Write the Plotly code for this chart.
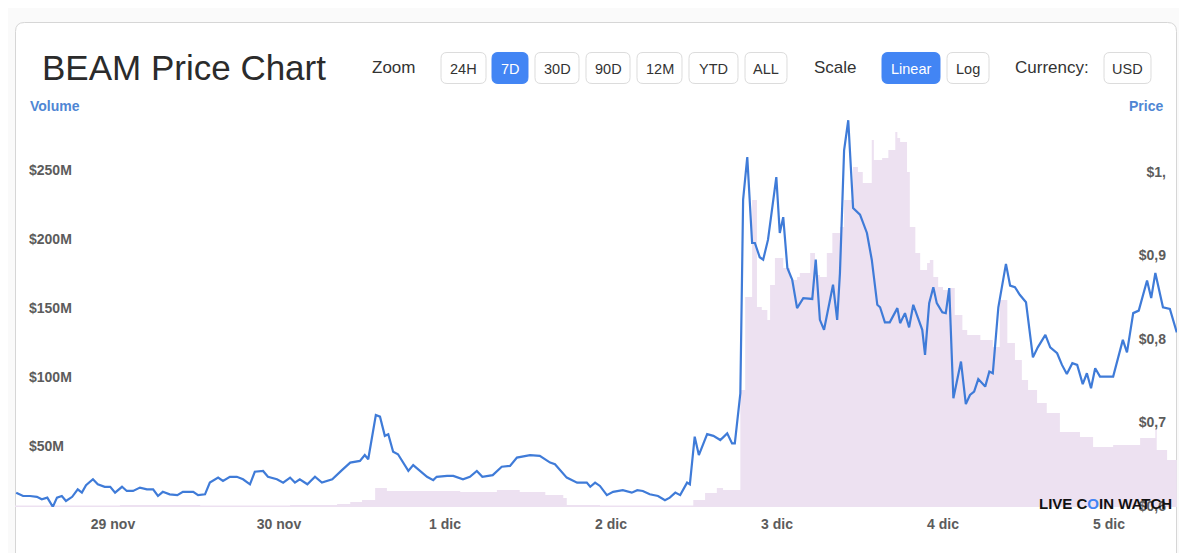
import plotly.graph_objects as go
import pandas as pd

# ---------------- data ----------------
START = pd.Timestamp("2020-11-29 00:00")

price_hours = [-14.0, -13.0, -12.0, -11.0, -10.3, -9.5, -8.7, -8.1, -7.4, -6.8,
               -5.9, -5.1, -4.5, -3.9, -2.9, -2.2, -1.2, -0.4, 0.3, 1.3,
               2.0, 2.9, 3.9, 4.9, 5.8, 6.5, 7.2, 8.2, 9.3, 10.1,
               11.6, 12.3, 13.3, 14.0, 15.2, 15.9, 16.9, 17.9, 18.8, 19.8,
               20.5, 21.7, 22.4, 23.7, 24.6, 25.6, 26.3, 27.0, 28.1, 29.2,
               30.2, 31.7, 33.1, 34.3, 35.7, 36.4, 36.9, 38.0, 38.6, 39.3,
               39.8, 40.5, 41.2, 42.7, 43.4, 45.4, 46.3, 46.8, 48.3, 49.2,
               50.6, 51.6, 52.6, 53.4, 54.9, 56.2, 57.4, 58.4, 60.3, 61.7,
               63.2, 63.9, 65.6, 67.1, 68.5, 69.0, 69.7, 70.4, 71.4, 72.3,
               73.7, 75.0, 75.8, 76.6, 77.6, 78.8, 79.8, 80.5, 81.3, 82.0,
               83.0, 83.4, 84.1, 84.7, 85.9, 86.8, 87.8, 88.8, 89.5, 89.9,
               90.7, 91.1, 91.7, 92.4, 92.8, 93.5, 94.0, 94.7, 95.9, 96.4,
               96.9, 97.5, 98.2, 98.9, 99.8, 101.1, 101.6, 102.2, 102.8, 103.4,
               104.1, 104.7, 105.1, 105.7, 106.3, 107.0, 108.0, 109.0, 109.7, 110.5,
               110.9, 111.6, 112.3, 113.4, 113.8, 114.5, 115.1, 115.7, 116.4, 117.0,
               117.4, 118.0, 118.6, 119.1, 119.9, 120.4, 120.9, 121.5, 122.6, 123.3,
               123.9, 124.5, 125.1, 126.1, 126.7, 127.2, 128.0, 129.1, 129.7, 130.4,
               131.1, 132.0, 133.0, 133.7, 134.8, 135.5, 136.5, 137.2, 137.9, 138.7,
               139.4, 140.2, 140.8, 141.4, 142.0, 142.7, 144.6, 145.3, 146.0, 146.6,
               147.5, 148.3, 149.5, 150.1, 150.7, 151.8, 152.8, 153.8]

price_usd = [0.616, 0.612, 0.612, 0.611, 0.608, 0.610, 0.599, 0.610, 0.612, 0.606,
             0.611, 0.620, 0.616, 0.625, 0.632, 0.626, 0.623, 0.623, 0.616, 0.623,
             0.618, 0.618, 0.622, 0.620, 0.620, 0.612, 0.617, 0.614, 0.613, 0.617,
             0.617, 0.613, 0.614, 0.628, 0.634, 0.630, 0.635, 0.635, 0.632, 0.626,
             0.641, 0.642, 0.635, 0.632, 0.628, 0.634, 0.628, 0.632, 0.626, 0.635,
             0.628, 0.632, 0.643, 0.652, 0.654, 0.661, 0.656, 0.709, 0.707, 0.684,
             0.686, 0.665, 0.662, 0.642, 0.649, 0.635, 0.631, 0.635, 0.636, 0.636,
             0.632, 0.635, 0.642, 0.635, 0.637, 0.647, 0.648, 0.658, 0.661, 0.660,
             0.652, 0.650, 0.634, 0.628, 0.628, 0.623, 0.628, 0.624, 0.613, 0.617,
             0.619, 0.616, 0.619, 0.618, 0.614, 0.612, 0.607, 0.610, 0.616, 0.613,
             0.628, 0.626, 0.683, 0.661, 0.686, 0.684, 0.679, 0.687, 0.675, 0.675,
             0.735, 0.967, 1.018, 0.915, 0.915, 0.898, 0.895, 0.919, 0.994, 0.927,
             0.946, 0.885, 0.871, 0.837, 0.849, 0.848, 0.895, 0.823, 0.811, 0.835,
             0.865, 0.823, 0.879, 1.026, 1.062, 0.957, 0.949, 0.927, 0.895, 0.841,
             0.838, 0.820, 0.820, 0.837, 0.819, 0.831, 0.814, 0.841, 0.826, 0.811,
             0.781, 0.843, 0.862, 0.843, 0.832, 0.831, 0.861, 0.729, 0.773, 0.722,
             0.733, 0.737, 0.752, 0.743, 0.761, 0.759, 0.838, 0.890, 0.864, 0.862,
             0.853, 0.844, 0.778, 0.790, 0.805, 0.790, 0.783, 0.769, 0.758, 0.771,
             0.769, 0.746, 0.759, 0.741, 0.765, 0.755, 0.755, 0.778, 0.799, 0.784,
             0.831, 0.834, 0.870, 0.849, 0.879, 0.838, 0.836, 0.808]

volume_hours = [-14.2, 1.0, 12.6, 25.6, 32.4, 34.3, 36.0, 37.9, 39.6, 44.4,
                50.2, 55.5, 58.8, 62.5, 65.1, 65.6, 70.4, 77.6, 83.9, 85.6,
                87.3, 88.2, 90.7, 91.4, 92.4, 93.1, 93.8, 94.6, 95.0, 95.7,
                96.9, 97.9, 98.9, 99.3, 100.8, 101.5, 102.2, 103.2, 104.0, 105.1,
                105.7, 107.0, 107.7, 108.4, 109.7, 110.0, 111.2, 112.1, 113.1, 113.4,
                113.8, 114.8, 115.2, 116.0, 116.7, 117.7, 118.1, 118.6, 119.3, 120.0,
                121.0, 121.7, 122.8, 123.5, 125.4, 127.2, 128.2, 129.3, 130.4, 131.4,
                132.3, 133.6, 135.0, 136.9, 139.8, 141.7, 144.6, 148.5, 150.7, 150.9,
                152.4, 153.8]

volume_musd = [6.9, 7.2, 6.9, 7.2, 8.0, 9.4, 10.9, 19.6, 17.4, 17.4,
               16.7, 18.1, 16.7, 14.5, 12.3, 7.2, 6.9, 6.9, 10.9, 15.9,
               19.6, 18.1, 90.6, 158.0, 228.3, 150.7, 148.6, 141.3, 166.7, 186.2,
               179.0, 170.3, 172.5, 175.4, 189.9, 173.9, 172.5, 189.9, 204.3, 208.7,
               228.3, 252.2, 248.6, 240.6, 271.7, 257.2, 258.7, 264.5, 277.5, 273.2,
               270.3, 248.6, 208.7, 189.9, 177.5, 182.6, 184.8, 172.5, 165.2, 163.0,
               164.5, 144.9, 134.1, 130.4, 126.8, 121.7, 155.8, 124.6, 112.3, 97.8,
               90.6, 81.2, 73.9, 60.1, 56.5, 49.3, 50.7, 55.8, 63.0, 47.1,
               39.9, 36.2]

volume_tick_vals = [50, 100, 150, 200, 250]
volume_tick_text = ["$50M", "$100M", "$150M", "$200M", "$250M"]
price_tick_vals = [0.6, 0.7, 0.8, 0.9, 1.0]
price_tick_text = ["$0,6", "$0,7", "$0,8", "$0,9", "$1,"]
date_tick_days = [0, 1, 2, 3, 4, 5, 6]
date_tick_text = ["29 nov", "30 nov", "1 dic", "2 dic", "3 dic", "4 dic", "5 dic"]
zoom_buttons = ["24H", "7D", "30D", "90D", "12M", "YTD", "ALL"]
scale_buttons = ["Linear", "Log"]
currency_buttons = ["USD"]

# ---------------- layout geometry (pixels, page coordinates) ----------------
PAGE_OFF = 8                     # default body margin of the html page
FIG_W, FIG_H = 1187 - PAGE_OFF, 553 - PAGE_OFF
L, R, T, B = 15, 1177, 115, 507  # plot area in page pixels
PW, PH = R - L, B - T


def px(x):
    return (x - L) / PW


def py(y):
    return (B - y) / PH


def rrect(x0, y0, x1, y1, r):
    pts = [
        ("M", [(x0 + r, y0)]), ("L", [(x1 - r, y0)]), ("Q", [(x1, y0), (x1, y0 + r)]),
        ("L", [(x1, y1 - r)]), ("Q", [(x1, y1), (x1 - r, y1)]),
        ("L", [(x0 + r, y1)]), ("Q", [(x0, y1), (x0, y1 - r)]),
        ("L", [(x0, y0 + r)]), ("Q", [(x0, y0), (x0 + r, y0)]),
    ]
    s = ""
    for cmd, ps in pts:
        s += cmd + " " + " ".join(f"{px(a):.5f},{py(b):.5f}" for a, b in ps) + " "
    return s + "Z"


price_times = [START + pd.Timedelta(hours=h) for h in price_hours]
volume_times = [START + pd.Timedelta(hours=h) for h in volume_hours]
date_ticks = [START + pd.Timedelta(days=d) for d in date_tick_days]

BLUE = "#4285f4"
LINE_BLUE = "#3f7bd8"
LABEL_BLUE = "#4f86d4"
GRAY = "#5c5c5c"
FONT = "Liberation Sans, Arial, sans-serif"

fig = go.Figure()
fig.add_trace(go.Scatter(
    x=volume_times, y=volume_musd, mode="lines",
    line=dict(shape="hv", width=0, color="#ede1f1"),
    fill="tozeroy", fillcolor="#ede1f1", hoverinfo="skip", yaxis="y"))
fig.add_trace(go.Scatter(
    x=price_times, y=price_usd, mode="lines",
    line=dict(color=LINE_BLUE, width=2.2), hoverinfo="skip", yaxis="y2"))

shapes = [dict(type="path", xref="paper", yref="paper", path=rrect(15.5, 22.5, 1176.5, 620, 9),
               line=dict(color="#d6d6d6", width=1), fillcolor="white", layer="below")]
annotations = []


def text(x, y, s, size, color="#333333", anchor="center", weight="normal"):
    annotations.append(dict(x=px(x), y=py(y), xref="paper", yref="paper", text=s,
                            showarrow=False, xanchor=anchor, yanchor="middle",
                            font=dict(family=FONT, size=size, color=color, weight=weight)))


def button(x0, x1, label, active):
    shapes.append(dict(type="path", xref="paper", yref="paper",
                       path=rrect(x0, 52.5, x1, 83.5, 6),
                       line=dict(color=BLUE if active else "#dcdcdc", width=1),
                       fillcolor=BLUE if active else "#ffffff", layer="above"))
    text((x0 + x1) / 2, 68.5, label, 14.5, "#ffffff" if active else "#333333")


text(40, 68, "BEAM Price Chart", 35, "#2b2b2b", anchor="left")
text(393, 68, "Zoom", 17)
zoom_x = [(441, 486), (492, 528), (535, 579), (586, 630), (637, 682), (689, 738), (745, 787)]
for (x0, x1), lab in zip(zoom_x, zoom_buttons):
    button(x0, x1, lab, lab == "7D")
text(835, 68, "Scale", 17)
scale_x = [(882, 940), (947, 989)]
for (x0, x1), lab in zip(scale_x, scale_buttons):
    button(x0, x1, lab, lab == "Linear")
text(1052, 68, "Currency:", 17)
button(1104, 1151, currency_buttons[0], False)

text(28, 106, "Volume", 14, LABEL_BLUE, anchor="left", weight="bold")
text(1165, 106, "Price", 14, LABEL_BLUE, anchor="right", weight="bold")
text(1105, 503, "LIVE C<span style='color:#4285f4'>O</span>IN WATCH", 15, "#111111", weight="bold")

fig.update_layout(
    width=FIG_W, height=FIG_H,
    margin=dict(l=L - PAGE_OFF, r=(1187 - R), t=T - PAGE_OFF, b=(553 - B), pad=0),
    paper_bgcolor="#fafafa", plot_bgcolor="rgba(0,0,0,0)",
    showlegend=False, shapes=shapes, annotations=annotations,
    font=dict(family=FONT),
    xaxis=dict(type="date",
               range=[START + pd.Timedelta(hours=-14.17), START + pd.Timedelta(hours=153.83)],
               tickvals=date_ticks, ticktext=date_tick_text,
               showgrid=False, zeroline=False, showline=False,
               ticks="outside", ticklen=4, tickcolor="rgba(0,0,0,0)",
               tickfont=dict(size=14, color=GRAY, weight="bold")),
    yaxis=dict(range=[5.8, 289.86], tickvals=volume_tick_vals, ticktext=volume_tick_text,
               ticklabelposition="inside", ticklabelstandoff=11, ticklabeloverflow="allow",
               showgrid=False, zeroline=False, showline=False, ticks="",
               tickfont=dict(size=14, color=GRAY, weight="bold")),
    yaxis2=dict(range=[0.5988, 1.0683], overlaying="y", side="right",
                tickvals=price_tick_vals, ticktext=price_tick_text,
                ticklabelposition="inside", ticklabelstandoff=8, ticklabeloverflow="allow",
                showgrid=False, zeroline=False, showline=False, ticks="",
                tickfont=dict(size=14, color=GRAY, weight="bold")),
)

fig.write_html("out.html")
